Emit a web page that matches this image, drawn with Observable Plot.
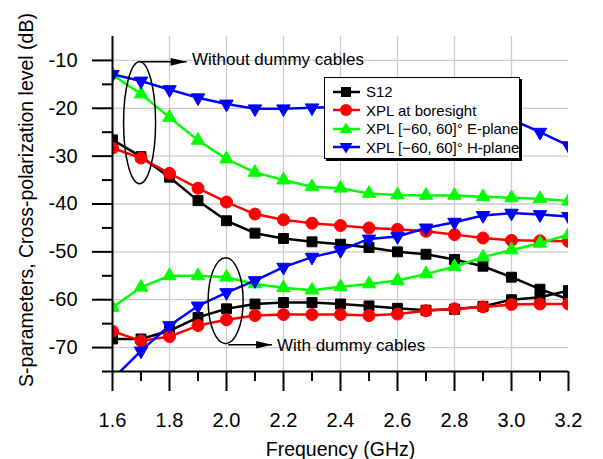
<!DOCTYPE html>
<html>
<head>
<meta charset="utf-8">
<script src="https://cdn.jsdelivr.net/npm/d3@7"></script>
<script src="https://cdn.jsdelivr.net/npm/@observablehq/plot@0.6"></script>
<style>
  body { margin: 0; background: #fff; font-family: "Liberation Sans", Arial, sans-serif; }
  #wrap { position: relative; width: 603px; height: 459px; }
  #legend { position: absolute; left: 324px; top: 77px; width: 196px; height: 82px; box-sizing: border-box;
            border: 1.2px solid #000; box-shadow: 2px 2px 0 #000; background: #fff; font-size: 15px; color: #000; }
  #legend .row { position: absolute; left: 7px; height: 18px; display: flex; align-items: center; white-space: nowrap; }
  #legend svg { margin-right: 5px; }
</style>
</head>
<body>
<div id="wrap"></div>
<script>
// ---- data ----
const freq = [1.6, 1.7, 1.8, 1.9, 2.0, 2.1, 2.2, 2.3, 2.4, 2.5, 2.6, 2.7, 2.8, 2.9, 3.0, 3.1, 3.2];

// without dummy cables
const s12Without = [-26.6, -30.1, -34.4, -39.3, -43.5, -46.1, -47.2, -47.9, -48.4, -49.1, -50.0, -50.5, -51.6, -53.0, -55.3, -57.8, -59.9];
const xplWithout = [-28.3, -30.4, -33.6, -36.7, -39.6, -42.1, -43.3, -44.0, -44.5, -45.0, -45.3, -45.7, -46.4, -47.1, -47.6, -47.7, -47.8];
const eWithout   = [-13.0, -17.0, -21.9, -26.7, -30.6, -33.4, -35.0, -36.4, -36.7, -37.8, -38.1, -38.2, -38.2, -38.5, -38.7, -38.9, -39.4];
const hWithout   = [-12.9, -14.3, -16.1, -17.8, -19.1, -20.1, -20.1, -19.9, -19.7, -19.6, -19.8, -20.0, -20.5, -21.2, -22.3, -25.0, -27.8];

// with dummy cables
const s12With = [-68.2, -68.2, -66.5, -63.7, -61.9, -60.9, -60.6, -60.6, -60.9, -61.3, -61.8, -62.2, -62.0, -61.4, -60.0, -59.5, -58.1];
const xplWith = [-66.6, -68.6, -67.7, -65.4, -64.2, -63.3, -63.1, -63.1, -63.1, -63.3, -63.0, -62.3, -61.9, -61.5, -61.0, -60.9, -60.9];
const eWith   = [-61.6, -57.4, -55.0, -55.0, -55.3, -56.7, -57.5, -58.0, -57.3, -56.7, -56.0, -54.6, -53.1, -51.1, -49.6, -48.2, -46.4];
const hWith   = [-76.6, -70.7, -65.4, -61.3, -58.5, -56.0, -53.2, -51.1, -49.7, -47.3, -46.8, -45.0, -43.8, -42.4, -41.9, -42.2, -42.6];

const seriesNames = ["S12", "XPL at boresight", "XPL [\u221260, 60]\u00b0 E-plane", "XPL [\u221260, 60]\u00b0 H-plane"];
const seriesColors = ["#000000", "#ff0000", "#00ff00", "#0000ff"];

const xDomain = [1.6, 3.2];
const yDomain = [-75, -5];
const xMajor = [1.6, 1.8, 2.0, 2.2, 2.4, 2.6, 2.8, 3.0, 3.2];
const xMinor = [1.7, 1.9, 2.1, 2.3, 2.5, 2.7, 2.9, 3.1];
const xGrid = [1.8, 2.0, 2.2, 2.4, 2.6, 2.8, 3.0];
const yMajor = [-10, -20, -30, -40, -50, -60, -70];
const yMinor = [-15, -25, -35, -45, -55, -65, -75];

const xTitle = "Frequency (GHz)";
const yTitle = "S-parameters, Cross-polarization level (dB)";

// annotations
const ellipseX = [1.695, 1.997];
const ellipseY = [-23.0, -60.2];
const arrowX1 = [1.698, 2.006];
const arrowX2 = [1.86, 2.16];
const arrowY = [-10.3, -69.4];
const noteText = ["Without dummy cables", "With dummy cables"];
const noteX = [1.879, 2.177];
const noteY = [-9.9, -69.5];

// ---- build ----
const groups = [
  [seriesNames[0], s12Without, s12With],
  [seriesNames[1], xplWithout, xplWith],
  [seriesNames[2], eWithout, eWith],
  [seriesNames[3], hWithout, hWith]
];

const triDown = {
  draw(ctx, size) {
    const s3 = Math.sqrt(3);
    const y = -Math.sqrt(size / (s3 * 3));
    ctx.moveTo(0, -2 * y);
    ctx.lineTo(-s3 * y, y);
    ctx.lineTo(s3 * y, y);
    ctx.closePath();
  }
};
function ellipseSymbol(rx, ry) {
  const k = 0.5523;
  return {
    draw(ctx) {
      ctx.moveTo(rx, 0);
      ctx.bezierCurveTo(rx, ry * k, rx * k, ry, 0, ry);
      ctx.bezierCurveTo(-rx * k, ry, -rx, ry * k, -rx, 0);
      ctx.bezierCurveTo(-rx, -ry * k, -rx * k, -ry, 0, -ry);
      ctx.bezierCurveTo(rx * k, -ry, rx, -ry * k, rx, 0);
      ctx.closePath();
    }
  };
}
const arrowHead = {
  draw(ctx) {
    ctx.moveTo(0, 0);
    ctx.lineTo(-16, -3.8);
    ctx.lineTo(-16, 3.8);
    ctx.closePath();
  }
};
const symbols = ["square", "circle", "triangle", triDown];
const radii = [5.6, 6, 5, 5];

const seriesMarks = [];
groups.forEach(([name, a, b], i) => {
  for (const arr of [a, b]) {
    const rows = freq.map((f, j) => ({f, v: arr[j], name}));
    seriesMarks.push(Plot.line(rows, {x: "f", y: "v", stroke: seriesColors[i], strokeWidth: 2.5, clip: true}));
    seriesMarks.push(Plot.dot(rows, {x: "f", y: "v", symbol: symbols[i], r: radii[i], fill: seriesColors[i], stroke: seriesColors[i], strokeWidth: 1, clip: true}));
  }
});

const ellipses = ellipseX.map((x, i) => ({x, y: ellipseY[i]}));
const arrows = arrowX1.map((x1, i) => ({x1, x2: arrowX2[i], y: arrowY[i]}));
const notes = noteText.map((t, i) => ({t, x: noteX[i], y: noteY[i]}));

const chart = Plot.plot({
  width: 603,
  height: 459,
  marginLeft: 112,
  marginRight: 35,
  marginTop: 36,
  marginBottom: 88,
  style: {fontFamily: "'Liberation Sans', Arial, sans-serif", fontSize: "19px", background: "white", color: "black", overflow: "visible"},
  x: {domain: xDomain},
  y: {domain: yDomain},
  marks: [
    Plot.gridX(xGrid, {stroke: "#cccccc", strokeOpacity: 1, strokeWidth: 1.3}),
    Plot.gridY(yMajor, {stroke: "#cccccc", strokeOpacity: 1, strokeWidth: 1.3}),
    ...seriesMarks,
    Plot.dot([ellipses[0]], {x: "x", y: "y", symbol: ellipseSymbol(16, 61), r: 5, fill: "none", stroke: "black", strokeWidth: 1.5}),
    Plot.dot([ellipses[1]], {x: "x", y: "y", symbol: ellipseSymbol(17.5, 43), r: 5, fill: "none", stroke: "black", strokeWidth: 1.5}),
    Plot.link(arrows, {x1: "x1", x2: "x2", y1: "y", y2: "y", stroke: "black", strokeWidth: 1.5}),
    Plot.dot(arrows, {x: "x2", y: "y", symbol: arrowHead, r: 5, fill: "black", stroke: "none"}),
    Plot.text(notes, {x: "x", y: "y", text: "t", textAnchor: "start", fontSize: 17, fill: "black"}),
    Plot.ruleX([xDomain[0]], {y1: yDomain[0], y2: yDomain[1], stroke: "black", strokeWidth: 2}),
    Plot.ruleY([yDomain[0]], {stroke: "black", strokeWidth: 2}),
    Plot.axisY(yMajor, {tickSize: 20, tickPadding: 15, tickFormat: d => String(d), fontSize: 20, strokeWidth: 2, label: null}),
    Plot.axisY(yMinor, {tickSize: 10, fill: "none", strokeWidth: 2, label: null}),
    Plot.axisX(xMajor, {tickSize: 20, tickPadding: 21, tickFormat: d => d.toFixed(1), fontSize: 20, strokeWidth: 2, label: null}),
    Plot.axisX(xMinor, {tickSize: 10, fill: "none", strokeWidth: 2, label: null}),
    Plot.text([xTitle], {text: d => d, frameAnchor: "bottom", dy: 84, fontSize: 19.5, fill: "black"}),
    Plot.text([yTitle], {text: d => d, frameAnchor: "left", textAnchor: "middle", lineAnchor: "middle", rotate: -90, dx: -86, dy: -4, fontSize: 19.5, fill: "black"})
  ]
});

const wrap = document.getElementById("wrap");
wrap.appendChild(chart);

// legend (inside plot area, top right)
const legend = document.createElement("div");
legend.id = "legend";
const swatchShapes = [
  c => `<rect x="9" y="3" width="10" height="10" fill="${c}"/>`,
  c => `<circle cx="14" cy="8" r="6" fill="${c}"/>`,
  c => `<polygon points="14,1.5 20.5,12 7.5,12" fill="${c}"/>`,
  c => `<polygon points="14,14.5 20.5,4 7.5,4" fill="${c}"/>`
];
seriesNames.forEach((name, i) => {
  const row = document.createElement("div");
  row.className = "row";
  row.style.top = (4.7 + i * 18.5) + "px";
  row.innerHTML = `<svg width="29" height="16" viewBox="0 0 29 16"><line x1="1" x2="28" y1="8" y2="8" stroke="${seriesColors[i]}" stroke-width="2.5"/>${swatchShapes[i](seriesColors[i])}</svg><span>${name}</span>`;
  legend.appendChild(row);
});
wrap.appendChild(legend);
</script>
</body>
</html>
